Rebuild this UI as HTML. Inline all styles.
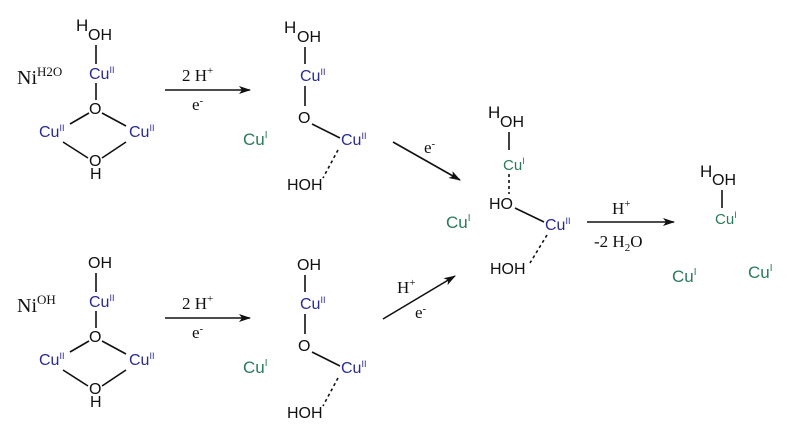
<!DOCTYPE html>
<html><head><meta charset="utf-8"><style>
html,body{margin:0;padding:0;background:#fff;}
svg{display:block;}
.a{font-family:"Liberation Sans",sans-serif;font-size:16px;fill:#111;}
.b{font-family:"Liberation Sans",sans-serif;font-size:16px;fill:#2a2a95;}
.g{font-family:"Liberation Sans",sans-serif;font-size:17px;fill:#2a7a5a;}
.gs{font-family:"Liberation Sans",sans-serif;font-size:15px;fill:#2a7a5a;}
.s{font-family:"Liberation Serif",serif;font-size:17px;fill:#111;}
.sup{font-size:9px;}
line{stroke:#111;stroke-width:1.6;}
.d{stroke-dasharray:3,3;}
</style></head><body>
<svg width="799" height="439" viewBox="0 0 799 439">
<defs><marker id="ar" markerWidth="12" markerHeight="8" refX="11" refY="4" orient="auto" markerUnits="userSpaceOnUse"><path d="M0,0 L12,4 L0,8 L3,4z" fill="#111"/></marker></defs>

<g>
<text class="a" x="17" y="84" style="font-family:'Liberation Serif',serif;font-size:20px">Ni<tspan dy="-8" style="font-size:13px">H2O</tspan></text>
<text class="a" x="76" y="31" style="font-size:17px">H</text>
<text class="a" x="88" y="40">OH</text>
<line x1="96" y1="45" x2="96" y2="64"/>
<text class="b" x="89" y="79">Cu<tspan class="sup" dy="-6">II</tspan></text>
<line x1="96" y1="83" x2="96" y2="100"/>
<text class="a" x="89" y="114">O</text>
<line x1="89" y1="113" x2="70" y2="124"/>
<line x1="102" y1="113" x2="126" y2="126"/>
<text class="b" x="39" y="137">Cu<tspan class="sup" dy="-6">II</tspan></text>
<text class="b" x="129" y="137">Cu<tspan class="sup" dy="-6">II</tspan></text>
<line x1="63" y1="142" x2="88" y2="158"/>
<line x1="126" y1="142" x2="102" y2="158"/>
<text class="a" x="89" y="166">O</text>
<text class="a" x="90" y="179">H</text>
</g>
<g transform="translate(0,228)">
<text class="a" x="17" y="84" style="font-family:'Liberation Serif',serif;font-size:20px">Ni<tspan dy="-8" style="font-size:13px">OH</tspan></text>
<text class="a" x="88" y="40">OH</text>
<line x1="96" y1="45" x2="96" y2="64"/>
<text class="b" x="89" y="79">Cu<tspan class="sup" dy="-6">II</tspan></text>
<line x1="96" y1="83" x2="96" y2="100"/>
<text class="a" x="89" y="114">O</text>
<line x1="89" y1="113" x2="70" y2="124"/>
<line x1="102" y1="113" x2="126" y2="126"/>
<text class="b" x="39" y="137">Cu<tspan class="sup" dy="-6">II</tspan></text>
<text class="b" x="129" y="137">Cu<tspan class="sup" dy="-6">II</tspan></text>
<line x1="63" y1="142" x2="88" y2="158"/>
<line x1="126" y1="142" x2="102" y2="158"/>
<text class="a" x="89" y="166">O</text>
<text class="a" x="90" y="179">H</text>
</g>

<line x1="165" y1="90" x2="250" y2="90" marker-end="url(#ar)"/>
<text class="s" x="182" y="81">2 H<tspan dy="-7" style="font-size:11px">+</tspan></text>
<text class="s" x="192" y="110">e<tspan dy="-6" style="font-size:11px">-</tspan></text>
<line x1="165" y1="318" x2="250" y2="318" marker-end="url(#ar)"/>
<text class="s" x="182" y="309">2 H<tspan dy="-7" style="font-size:11px">+</tspan></text>
<text class="s" x="192" y="338">e<tspan dy="-6" style="font-size:11px">-</tspan></text>

<g>
<text class="a" x="284" y="33" style="font-size:17px">H</text>
<text class="a" x="297" y="42">OH</text>
<line x1="305" y1="47" x2="305" y2="64"/>
<text class="b" x="300" y="81">Cu<tspan class="sup" dy="-6">II</tspan></text>
<line x1="305" y1="86" x2="305" y2="106"/>
<text class="a" x="298" y="123">O</text>
<line x1="312" y1="124" x2="340" y2="138"/>
<text class="b" x="341" y="145">Cu<tspan class="sup" dy="-6">II</tspan></text>
<line class="d" x1="338" y1="150" x2="323" y2="178"/>
<text class="a" x="287" y="190">HOH</text>
<text class="g" x="243" y="145">Cu<tspan dy="-7" style="font-size:10px">I</tspan></text>
</g>
<g transform="translate(0,228)">
<text class="a" x="297" y="42">OH</text>
<line x1="305" y1="47" x2="305" y2="64"/>
<text class="b" x="300" y="81">Cu<tspan class="sup" dy="-6">II</tspan></text>
<line x1="305" y1="86" x2="305" y2="106"/>
<text class="a" x="298" y="123">O</text>
<line x1="312" y1="124" x2="340" y2="138"/>
<text class="b" x="341" y="145">Cu<tspan class="sup" dy="-6">II</tspan></text>
<line class="d" x1="338" y1="150" x2="323" y2="178"/>
<text class="a" x="287" y="190">HOH</text>
<text class="g" x="243" y="145">Cu<tspan dy="-7" style="font-size:10px">I</tspan></text>
</g>

<line x1="393" y1="142" x2="460" y2="180" marker-end="url(#ar)"/>
<text class="s" x="424" y="153">e<tspan dy="-6" style="font-size:11px">-</tspan></text>
<line x1="383" y1="319" x2="455" y2="276" marker-end="url(#ar)"/>
<text class="s" x="397" y="293">H<tspan dy="-7" style="font-size:11px">+</tspan></text>
<text class="s" x="415" y="318">e<tspan dy="-6" style="font-size:11px">-</tspan></text>

<text class="a" x="488" y="118" style="font-size:17px">H</text>
<text class="a" x="500" y="127">OH</text>
<line x1="509" y1="132" x2="509" y2="150"/>
<text class="gs" x="503" y="170">Cu<tspan dy="-6" style="font-size:9px">I</tspan></text>
<line class="d" x1="509" y1="174" x2="509" y2="194"/>
<text class="a" x="489" y="209">HO</text>
<line x1="515" y1="208" x2="544" y2="222"/>
<text class="b" x="545" y="230">Cu<tspan class="sup" dy="-6">II</tspan></text>
<line class="d" x1="547" y1="235" x2="530" y2="263"/>
<text class="a" x="490" y="274">HOH</text>
<text class="g" x="446" y="228">Cu<tspan dy="-7" style="font-size:10px">I</tspan></text>

<line x1="587" y1="222" x2="674" y2="222" marker-end="url(#ar)"/>
<text class="s" x="612" y="214">H<tspan dy="-7" style="font-size:11px">+</tspan></text>
<text class="s" x="594" y="247">-2 H<tspan dy="4" style="font-size:11px">2</tspan><tspan dy="-4">O</tspan></text>

<text class="a" x="700" y="177" style="font-size:17px">H</text>
<text class="a" x="712" y="185">OH</text>
<line x1="722" y1="190" x2="722" y2="208"/>
<text class="gs" x="715" y="224">Cu<tspan dy="-6" style="font-size:9px">I</tspan></text>
<text class="g" x="672" y="282">Cu<tspan dy="-7" style="font-size:10px">I</tspan></text>
<text class="g" x="748" y="278">Cu<tspan dy="-7" style="font-size:10px">I</tspan></text>
</svg>
</body></html>
